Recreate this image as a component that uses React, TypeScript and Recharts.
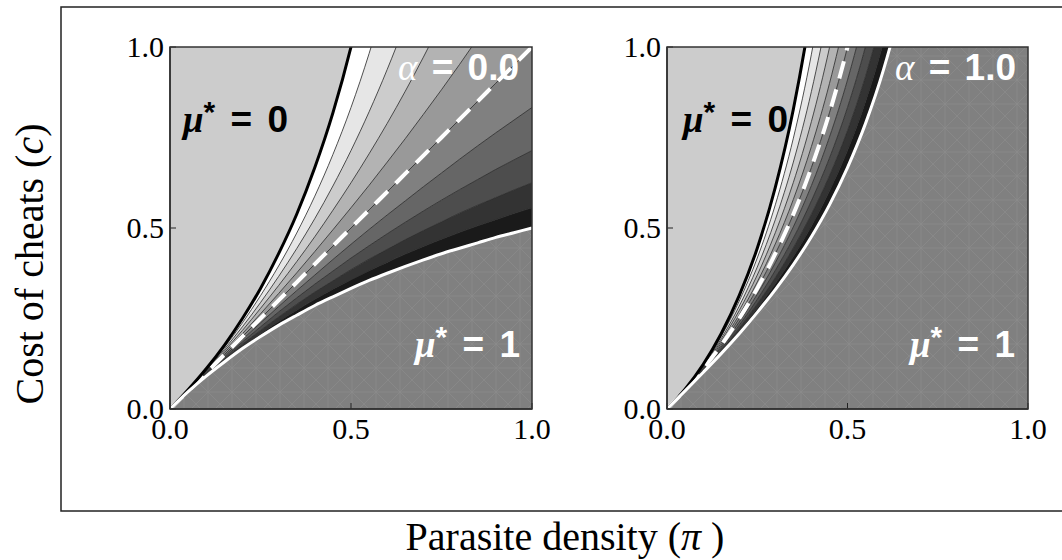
import React from 'react';
import { ComposedChart, Area, Line, XAxis, YAxis, CartesianGrid } from 'recharts';

// parasite density grid shared by both panels
const piGrid = [0, 0.05, 0.1, 0.15, 0.2, 0.25, 0.3, 0.35, 0.4, 0.45, 0.5, 0.55, 0.6, 0.65, 0.7, 0.75, 0.8, 0.85, 0.9, 0.95, 1];

// alpha = 0.0 : contour curves c(pi) for mu* = 0, 0.1, ... 1 (values above the frame capped at 3)
const leftMu00 = [0, 0.053, 0.111, 0.176, 0.25, 0.333, 0.429, 0.538, 0.667, 0.818, 1, 1.222, 1.5, 1.857, 2.333, 3, 3, 3, 3, 3, 3];
const leftMu01 = [0, 0.052, 0.109, 0.17, 0.238, 0.313, 0.395, 0.486, 0.588, 0.703, 0.833, 0.982, 1.154, 1.354, 1.591, 1.875, 2.222, 2.656, 3, 3, 3];
const leftMu02 = [0, 0.052, 0.106, 0.165, 0.227, 0.294, 0.366, 0.443, 0.526, 0.616, 0.714, 0.821, 0.938, 1.066, 1.207, 1.364, 1.538, 1.735, 1.957, 2.209, 2.5];
const leftMu03 = [0, 0.051, 0.104, 0.16, 0.217, 0.278, 0.341, 0.407, 0.476, 0.549, 0.625, 0.705, 0.789, 0.878, 0.972, 1.071, 1.176, 1.288, 1.406, 1.532, 1.667];
const leftMu04 = [0, 0.051, 0.102, 0.155, 0.208, 0.263, 0.319, 0.376, 0.435, 0.495, 0.556, 0.618, 0.682, 0.747, 0.814, 0.882, 0.952, 1.024, 1.098, 1.173, 1.25];
const leftMu05 = [0, 0.05, 0.1, 0.15, 0.2, 0.25, 0.3, 0.35, 0.4, 0.45, 0.5, 0.55, 0.6, 0.65, 0.7, 0.75, 0.8, 0.85, 0.9, 0.95, 1];
const leftMu06 = [0, 0.05, 0.098, 0.146, 0.192, 0.238, 0.283, 0.327, 0.37, 0.413, 0.455, 0.496, 0.536, 0.575, 0.614, 0.652, 0.69, 0.727, 0.763, 0.798, 0.833];
const leftMu07 = [0, 0.049, 0.096, 0.142, 0.185, 0.227, 0.268, 0.307, 0.345, 0.381, 0.417, 0.451, 0.484, 0.516, 0.547, 0.577, 0.606, 0.634, 0.662, 0.688, 0.714];
const leftMu08 = [0, 0.049, 0.094, 0.138, 0.179, 0.217, 0.254, 0.289, 0.323, 0.354, 0.385, 0.414, 0.441, 0.468, 0.493, 0.517, 0.541, 0.563, 0.584, 0.605, 0.625];
const leftMu09 = [0, 0.048, 0.093, 0.134, 0.172, 0.208, 0.242, 0.273, 0.303, 0.331, 0.357, 0.382, 0.405, 0.428, 0.449, 0.469, 0.488, 0.506, 0.523, 0.54, 0.556];
const leftMu10 = [0, 0.048, 0.091, 0.13, 0.167, 0.2, 0.231, 0.259, 0.286, 0.31, 0.333, 0.355, 0.375, 0.394, 0.412, 0.429, 0.444, 0.459, 0.474, 0.487, 0.5];

// alpha = 1.0
const rightMu00 = [0, 0.055, 0.123, 0.208, 0.313, 0.444, 0.612, 0.828, 1.111, 1.488, 2, 2.716, 3, 3, 3, 3, 3, 3, 3, 3, 3];
const rightMu01 = [0, 0.055, 0.121, 0.201, 0.298, 0.417, 0.564, 0.748, 0.98, 1.278, 1.667, 2.183, 2.885, 3, 3, 3, 3, 3, 3, 3, 3];
const rightMu02 = [0, 0.054, 0.118, 0.194, 0.284, 0.392, 0.523, 0.682, 0.877, 1.121, 1.429, 1.824, 2.344, 3, 3, 3, 3, 3, 3, 3, 3];
const rightMu03 = [0, 0.054, 0.116, 0.188, 0.272, 0.37, 0.487, 0.626, 0.794, 0.998, 1.25, 1.567, 1.974, 2.51, 3, 3, 3, 3, 3, 3, 3];
const rightMu04 = [0, 0.053, 0.113, 0.182, 0.26, 0.351, 0.456, 0.579, 0.725, 0.899, 1.111, 1.373, 1.705, 2.135, 2.713, 3, 3, 3, 3, 3, 3];
const rightMu05 = [0, 0.053, 0.111, 0.176, 0.25, 0.333, 0.429, 0.538, 0.667, 0.818, 1, 1.222, 1.5, 1.857, 2.333, 3, 3, 3, 3, 3, 3];
const rightMu06 = [0, 0.052, 0.109, 0.171, 0.24, 0.317, 0.404, 0.503, 0.617, 0.751, 0.909, 1.101, 1.339, 1.643, 2.047, 2.609, 3, 3, 3, 3, 3];
const rightMu07 = [0, 0.052, 0.107, 0.166, 0.231, 0.303, 0.383, 0.472, 0.575, 0.693, 0.833, 1.002, 1.21, 1.474, 1.823, 2.308, 3, 3, 3, 3, 3];
const rightMu08 = [0, 0.051, 0.105, 0.162, 0.223, 0.29, 0.363, 0.445, 0.538, 0.644, 0.769, 0.919, 1.103, 1.336, 1.643, 2.069, 2.703, 3, 3, 3, 3];
const rightMu09 = [0, 0.051, 0.103, 0.158, 0.216, 0.278, 0.346, 0.421, 0.505, 0.602, 0.714, 0.849, 1.014, 1.222, 1.496, 1.875, 2.439, 3, 3, 3, 3];
const rightMu10 = [0, 0.05, 0.101, 0.153, 0.208, 0.267, 0.33, 0.399, 0.476, 0.564, 0.667, 0.789, 0.938, 1.126, 1.373, 1.714, 2.222, 3, 3, 3, 3];

const leftCurves = [leftMu00, leftMu01, leftMu02, leftMu03, leftMu04, leftMu05, leftMu06, leftMu07, leftMu08, leftMu09, leftMu10];
const rightCurves = [rightMu00, rightMu01, rightMu02, rightMu03, rightMu04, rightMu05, rightMu06, rightMu07, rightMu08, rightMu09, rightMu10];

const alphaLabels = ['0.0', '1.0'];
const axisTicks = [0, 0.5, 1];
const bandGrays = ['#ffffff', '#e6e6e6', '#cccccc', '#b3b3b3', '#999999', '#808080', '#666666', '#4d4d4d', '#333333', '#1a1a1a'];

const serif = '"Liberation Serif", "DejaVu Serif", serif';
const sans = '"Liberation Sans", Arial, sans-serif';

const buildRows = (curves: number[][]) =>
    piGrid.map((p, i) => {
        const row: any = { p };
        curves.forEach((c, k) => { row['m' + k] = c[i]; });
        return row;
    });

const XTick = (props: any) => {
    const { x, y, payload } = props;
    return (
        <g>
            <line x1={x} x2={x} y1={y} y2={y - 6} stroke="#222" strokeWidth={1} />
            <text x={x} y={y + 30} textAnchor="middle" fontFamily={serif} fontSize={30} fill="#000">
                {Number(payload.value).toFixed(1)}
            </text>
        </g>
    );
};

const YTick = (props: any) => {
    const { x, y, payload } = props;
    return (
        <g>
            <line x1={x} x2={x + 6} y1={y} y2={y} stroke="#222" strokeWidth={1} />
            <text x={x - 6} y={y + 10} textAnchor="end" fontFamily={serif} fontSize={30} fill="#000">
                {Number(payload.value).toFixed(1)}
            </text>
        </g>
    );
};

const Panel: React.FC<{ curves: number[][]; left: number; width: number }> = ({ curves, left, width }) => {
    const rows = buildRows(curves);
    return (
        <div style={{ position: 'absolute', left, top: 20 }}>
            <ComposedChart width={width} height={439} data={rows} margin={{ top: 27, right: 38, left: 0, bottom: 0 }}>
                <CartesianGrid horizontal={false} vertical={false} fill="#cccccc" fillOpacity={1} />
                <XAxis type="number" dataKey="p" domain={[0, 1]} ticks={axisTicks} interval={0} height={50}
                    tick={<XTick />} tickLine={false} tickSize={0} tickMargin={0}
                    axisLine={{ stroke: '#222', strokeWidth: 1.5 }} />
                <YAxis type="number" domain={[0, 1]} allowDataOverflow ticks={axisTicks} interval={0} width={70}
                    tick={<YTick />} tickLine={false} tickSize={0} tickMargin={0}
                    axisLine={{ stroke: '#222', strokeWidth: 1.5 }} />
                <Area dataKey="m10" type="monotone" fill="url(#meshFill)" fillOpacity={1} stroke="none"
                    dot={false} activeDot={false} isAnimationActive={false} />
                {bandGrays.map((g, k) => (
                    <Area key={'band' + k} dataKey={(d: any) => [d['m' + (k + 1)], d['m' + k]]} type="monotone"
                        fill={g} fillOpacity={1} stroke="none" dot={false} activeDot={false} isAnimationActive={false} />
                ))}
                {[1, 2, 3, 4, 5, 6, 7, 8, 9].map((k) => (
                    <Line key={'c' + k} dataKey={'m' + k} type="monotone" stroke="#2a2a2a" strokeWidth={0.8}
                        dot={false} activeDot={false} isAnimationActive={false} />
                ))}
                <Line dataKey="m5" type="monotone" stroke="#ffffff" strokeWidth={4} strokeDasharray="18 11"
                    dot={false} activeDot={false} isAnimationActive={false} />
                <Line dataKey="m0" type="monotone" stroke="#000000" strokeWidth={3}
                    dot={false} activeDot={false} isAnimationActive={false} />
                <Line dataKey="m10" type="monotone" stroke="#ffffff" strokeWidth={3}
                    dot={false} activeDot={false} isAnimationActive={false} />
            </ComposedChart>
        </div>
    );
};

const MuLabel: React.FC<{ x: number; y: number; value: string; color: string }> = ({ x, y, value, color }) => (
    <text x={x} y={y} fontFamily={sans} fontWeight="bold" fontSize={37} fill={color} wordSpacing={5}>
        <tspan fontFamily={serif} fontStyle="italic">μ</tspan>
        <tspan dy={-10} fontSize={30}>*</tspan>
        <tspan dy={10}>{' = ' + value}</tspan>
    </text>
);

const AlphaLabel: React.FC<{ x: number; y: number; value: string }> = ({ x, y, value }) => (
    <text x={x} y={y} fontFamily={sans} fontWeight="bold" fontSize={37} fill="#ffffff" wordSpacing={4}>
        <tspan fontFamily={serif} fontStyle="italic" fontWeight="normal">α</tspan>
        <tspan>{' = ' + value}</tspan>
    </text>
);

export default function App() {
    return (
        <div style={{ position: 'absolute', left: 0, top: 0, width: 1062, height: 560, background: '#fff', overflow: 'hidden' }}>
            <svg width={0} height={0} style={{ position: 'absolute' }}>
                <defs>
                    <pattern id="meshFill" width={24} height={24} patternUnits="userSpaceOnUse">
                        <rect width={24} height={24} fill="#808080" />
                        <path d="M0 24 L24 0 M0 0 L24 24 M12 0 L12 24 M0 12 L24 12" stroke="#8d8d8d" strokeWidth={0.6} fill="none" />
                    </pattern>
                </defs>
            </svg>
            <Panel curves={leftCurves} left={100} width={470} />
            <Panel curves={rightCurves} left={597} width={469} />
            <svg width={1062} height={560} style={{ position: 'absolute', left: 0, top: 0, pointerEvents: 'none' }}>
                <rect x={61} y={7} width={1030} height={504} fill="none" stroke="#222" strokeWidth={1.5} />
                <rect x={170} y={47} width={362} height={362} fill="none" stroke="#333" strokeWidth={1.5} />
                <rect x={667} y={47} width={361} height={362} fill="none" stroke="#333" strokeWidth={1.5} />

                <MuLabel x={183} y={132} value="0" color="#000" />
                <AlphaLabel x={398} y={80} value={alphaLabels[0]} />
                <MuLabel x={415} y={357} value="1" color="#fff" />

                <MuLabel x={683} y={132} value="0" color="#000" />
                <AlphaLabel x={895} y={80} value={alphaLabels[1]} />
                <MuLabel x={910} y={357} value="1" color="#fff" />

                <text transform="translate(43,264) rotate(-90)" textAnchor="middle" fontFamily={serif} fontSize={40} fill="#000">
                    Cost of cheats (<tspan fontStyle="italic">c</tspan>)
                </text>
                <text x={565} y={550} textAnchor="middle" fontFamily={serif} fontSize={40} fill="#000">
                    Parasite density (<tspan fontStyle="italic">π</tspan> )
                </text>
            </svg>
        </div>
    );
}
